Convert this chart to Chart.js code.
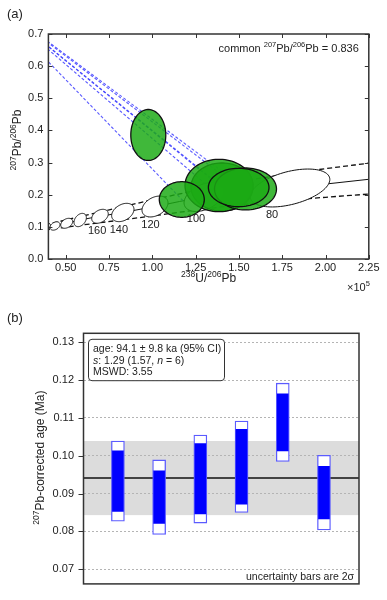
<!DOCTYPE html>
<html>
<head>
<meta charset="utf-8">
<script src="https://cdn.jsdelivr.net/npm/chart.js@4.4.0/dist/chart.umd.min.js"></script>
<style>
  html, body { margin: 0; padding: 0; background: #fff; }
  #wrapA { position: absolute; left: 0; top: 0; width: 387px; height: 300px; }
  #wrapB { position: absolute; left: 0; top: 300px; width: 387px; height: 300px; }
</style>
</head>
<body>
<div id="wrapA"><canvas id="chartA"></canvas></div>
<div id="wrapB"><canvas id="chartB"></canvas></div>
<script>
var FONT = '"Liberation Sans", Arial, Helvetica, sans-serif';
Chart.defaults.font.family = FONT;
Chart.defaults.color = '#222';

// ---------- panel (a): Tera-Wasserburg, 238U/206Pb in units of 1e5 ----------
var xTicksA = [0.50, 0.75, 1.00, 1.25, 1.50, 1.75, 2.00, 2.25];
var yTicksA = [0.0, 0.1, 0.2, 0.3, 0.4, 0.5, 0.6, 0.7];

var commonPb = 0.836;

// concordia and its dashed uncertainty envelope
var concX = [0.38, 0.4381, 0.5057, 0.5836, 0.6979, 0.8296, 1.0155, 1.2984, 1.795, 2.25];
var concY = [0.098, 0.1027, 0.1111, 0.1213, 0.1329, 0.1447, 0.1633, 0.1929, 0.2209, 0.248];
var envX = [0.38, 0.60, 0.80, 1.00, 1.25, 1.50, 1.75, 2.00, 2.25];
var envUpper = [0.106, 0.134, 0.159, 0.184, 0.213, 0.240, 0.262, 0.281, 0.298];
var envLower = [0.090, 0.106, 0.120, 0.134, 0.152, 0.168, 0.181, 0.192, 0.202];

// age markers on the concordia (ka)
var ageText = ['', '', '', '', '160', '140', '120', '100', '80'];
var ageX   = [0.386, 0.4381, 0.5057, 0.5836, 0.6979, 0.8296, 1.0155, 1.2984, 1.795];
var ageY   = [0.0996, 0.1027, 0.1111, 0.1213, 0.1329, 0.1447, 0.1633, 0.1929, 0.2209];
var ageSX  = [0.026, 0.0288, 0.0346, 0.0357, 0.0478, 0.0645, 0.075, 0.115, 0.23];
var ageSY  = [0.0125, 0.013, 0.0155, 0.0207, 0.0217, 0.0285, 0.0325, 0.045, 0.059];
var ageRho = [0.35, 0.35, 0.35, 0.35, 0.35, 0.35, 0.35, 0.4, 0.45];

// measured aliquots
var smpX   = [1.4023, 1.385, 1.1702, 0.9768, 1.538, 1.4987];
var smpY   = [0.224, 0.2287, 0.1851, 0.3858, 0.2178, 0.2225];
var smpSX  = [0.179, 0.1963, 0.1299, 0.101, 0.179, 0.175];
var smpSY  = [0.0747, 0.0815, 0.0554, 0.0793, 0.0653, 0.0597];
var smpRho = [0, 0, 0, 0, 0, 0];
// where each common-Pb line meets the concordia
var hitX = [1.455, 1.447, 1.176, 1.386, 1.564, 1.536];
var hitY = [0.2013, 0.2015, 0.182, 0.197, 0.208, 0.207];

// ---------- panel (b): 207Pb-corrected ages (Ma) ----------
var aliquot = [1, 2, 3, 4, 5, 6];
var outerLo = [0.0827, 0.0792, 0.0822, 0.0850, 0.0985, 0.0804];
var outerHi = [0.1039, 0.0989, 0.1055, 0.1092, 0.1192, 0.1001];
var innerLo = [0.0853, 0.0821, 0.0846, 0.0872, 0.1013, 0.0833];
var innerHi = [0.1013, 0.0960, 0.1032, 0.1070, 0.1164, 0.0972];
var meanAge = 0.0941;
var meanCI = 0.0098;
var yTicksB = [0.07, 0.08, 0.09, 0.10, 0.11, 0.12, 0.13];


function pts(xs, ys) {
    return xs.map(function (x, i) { return { x: x, y: ys[i] }; });
}

// text with superscript / italic pieces: parts = [[text, sup, italic], ...]
function drawRich(ctx, parts, x, y, align, size, supSize) {
    function fontOf(p) {
        return (p[2] ? 'italic ' : '') + (p[1] ? supSize : size) + 'px ' + FONT;
    }
    var w = 0;
    parts.forEach(function (p) { ctx.font = fontOf(p); w += ctx.measureText(p[0]).width; });
    var cx = align === 'right' ? x - w : (align === 'center' ? x - w / 2 : x);
    ctx.textAlign = 'left';
    ctx.textBaseline = 'alphabetic';
    parts.forEach(function (p) {
        ctx.font = fontOf(p);
        ctx.fillText(p[0], cx, p[1] ? y - size * 0.4 : y);
        cx += ctx.measureText(p[0]).width;
    });
}

function ellipsePath(ctx, xs, ys, cx, cy, sx, sy, rho) {
    var r2 = Math.sqrt(1 - rho * rho);
    ctx.beginPath();
    for (var k = 0; k <= 90; k++) {
        var t = k / 90 * 2 * Math.PI;
        var px = xs.getPixelForValue(cx + sx * Math.cos(t));
        var py = ys.getPixelForValue(cy + sy * (rho * Math.cos(t) + r2 * Math.sin(t)));
        if (k === 0) ctx.moveTo(px, py); else ctx.lineTo(px, py);
    }
    ctx.closePath();
}

function clipArea(ctx, a) {
    ctx.beginPath();
    ctx.rect(a.left, a.top, a.right - a.left, a.bottom - a.top);
    ctx.clip();
}

// white age ellipses go on top of the concordia lines
var ageEllipses = {
    id: 'ageEllipses',
    afterDatasetDraw: function (chart, args) {
        if (chart.data.datasets[args.index].label !== 'concordia') return;
        var ctx = chart.ctx, xs = chart.scales.x, ys = chart.scales.y;
        ctx.save();
        clipArea(ctx, chart.chartArea);
        for (var i = 0; i < ageX.length; i++) {
            ellipsePath(ctx, xs, ys, ageX[i], ageY[i], ageSX[i], ageSY[i], ageRho[i]);
            ctx.fillStyle = '#fff';
            ctx.fill();
            ctx.strokeStyle = '#111';
            ctx.lineWidth = 1;
            ctx.stroke();
        }
        ctx.restore();
        ctx.save();
        ctx.fillStyle = '#222';
        ctx.font = '11px ' + FONT;
        ctx.textAlign = 'center';
        ctx.textBaseline = 'alphabetic';
        for (var j = 0; j < ageX.length; j++) {
            if (!ageText[j]) continue;
            var lx = xs.getPixelForValue(ageX[j] - ageRho[j] * ageSX[j]);
            var ly = ys.getPixelForValue(ageY[j] - ageSY[j]);
            ctx.fillText(ageText[j], lx, ly + 11);
        }
        ctx.restore();
    }
};

var panelA = {
    id: 'panelA',
    afterDatasetsDraw: function (chart) {
        var ctx = chart.ctx, xs = chart.scales.x, ys = chart.scales.y;
        ctx.save();
        clipArea(ctx, chart.chartArea);
        for (var i = 0; i < smpX.length; i++) {
            ellipsePath(ctx, xs, ys, smpX[i], smpY[i], smpSX[i], smpSY[i], smpRho[i]);
            ctx.fillStyle = 'rgba(28,170,20,0.84)';
            ctx.fill();
            ctx.strokeStyle = '#111';
            ctx.lineWidth = 1.3;
            ctx.stroke();
        }
        ctx.restore();
    },
    afterDraw: function (chart) {
        var ctx = chart.ctx, a = chart.chartArea, xs = chart.scales.x, ys = chart.scales.y;
        ctx.save();
        ctx.strokeStyle = '#333';
        ctx.lineWidth = 1;
        ctx.beginPath();
        xTicksA.forEach(function (v) {
            var px = Math.round(xs.getPixelForValue(v)) + 0.5;
            ctx.moveTo(px, a.bottom); ctx.lineTo(px, a.bottom - 4);
            ctx.moveTo(px, a.top); ctx.lineTo(px, a.top + 4);
        });
        yTicksA.forEach(function (v) {
            var py = Math.round(ys.getPixelForValue(v)) + 0.5;
            ctx.moveTo(a.left, py); ctx.lineTo(a.left + 4, py);
            ctx.moveTo(a.right, py); ctx.lineTo(a.right - 4, py);
        });
        ctx.stroke();
        ctx.lineWidth = 1.5;
        ctx.strokeRect(a.left, a.top, a.right - a.left, a.bottom - a.top);

        ctx.fillStyle = '#222';
        drawRich(ctx, [['(a)']], 7, 18, 'left', 13, 9);
        drawRich(ctx, [['common '], ['207', true], ['Pb/'], ['206', true], ['Pb = ' + commonPb.toFixed(3)]],
            a.right - 10, 51.5, 'right', 11, 7.5);
        drawRich(ctx, [['238', true], ['U/'], ['206', true], ['Pb']],
            (a.left + a.right) / 2, 282, 'center', 12, 8.5);
        drawRich(ctx, [['\u00d710'], ['5', true]], a.right + 1, 290.5, 'right', 11, 7.5);
        ctx.translate(20.5, 140);
        ctx.rotate(-Math.PI / 2);
        drawRich(ctx, [['207', true], ['Pb/'], ['206', true], ['Pb']], 0, 0, 'center', 12, 8.5);
        ctx.restore();
    }
};

var datasetsA = [
    { label: 'concordia', data: pts(concX, concY), borderColor: '#111', borderWidth: 1,
      cubicInterpolationMode: 'monotone', order: 2 },
    { label: 'upper', data: pts(envX, envUpper), borderColor: '#111', borderWidth: 1.3,
      borderDash: [5, 3], cubicInterpolationMode: 'monotone', order: 2 },
    { label: 'lower', data: pts(envX, envLower), borderColor: '#111', borderWidth: 1.3,
      borderDash: [5, 3], cubicInterpolationMode: 'monotone', order: 2 }
];
for (var i = 0; i < hitX.length; i++) {
    datasetsA.push({
        label: 'common Pb ' + (i + 1),
        data: [{ x: 0, y: commonPb }, { x: hitX[i], y: hitY[i] }],
        borderColor: 'rgba(60,60,255,0.85)', borderWidth: 1.1, borderDash: [3, 2], order: 1
    });
}
datasetsA.forEach(function (d) { d.showLine = true; d.pointRadius = 0; d.fill = false; });

new Chart(document.getElementById('chartA'), {
    type: 'scatter',
    data: { datasets: datasetsA },
    options: {
        responsive: true,
        maintainAspectRatio: false,
        animation: false,
        events: [],
        layout: { padding: { left: 0, right: 18.2, top: 34, bottom: 0 } },
        plugins: { legend: { display: false }, tooltip: { enabled: false } },
        scales: {
            x: {
                type: 'linear', min: 0.4, max: 2.25,
                grid: { display: false, drawTicks: false },
                border: { display: false },
                afterBuildTicks: function (s) { s.ticks = xTicksA.map(function (v) { return { value: v }; }); },
                afterFit: function (s) { s.height = 41; },
                ticks: { padding: 2, maxRotation: 0, font: { size: 11 }, color: '#222',
                    callback: function (v) { return Number(v).toFixed(2); } }
            },
            y: {
                type: 'linear', min: 0, max: 0.7,
                grid: { display: false, drawTicks: false },
                border: { display: false },
                afterBuildTicks: function (s) { s.ticks = yTicksA.map(function (v) { return { value: v }; }); },
                afterFit: function (s) { s.width = 48.4; },
                ticks: { padding: 5, font: { size: 11 }, color: '#222',
                    callback: function (v) { return Number(v).toFixed(1); } }
            }
        }
    },
    plugins: [ageEllipses, panelA]
});

// ---------- panel (b) ----------
var panelB = {
    id: 'panelB',
    beforeDraw: function (chart) {
        var ctx = chart.ctx, a = chart.chartArea, ys = chart.scales.y;
        var top = ys.getPixelForValue(meanAge + meanCI), bot = ys.getPixelForValue(meanAge - meanCI);
        ctx.save();
        ctx.fillStyle = '#dcdcdc';
        ctx.fillRect(a.left, top, a.right - a.left, bot - top);
        ctx.restore();
    },
    beforeDatasetsDraw: function (chart) {
        var ctx = chart.ctx, a = chart.chartArea, ys = chart.scales.y;
        var py = ys.getPixelForValue(meanAge);
        ctx.save();
        ctx.strokeStyle = '#111';
        ctx.lineWidth = 1.4;
        ctx.beginPath();
        ctx.moveTo(a.left, py); ctx.lineTo(a.right, py);
        ctx.stroke();
        ctx.restore();
    },
    afterDraw: function (chart) {
        var ctx = chart.ctx, a = chart.chartArea, ys = chart.scales.y;
        ctx.save();
        ctx.strokeStyle = '#333';
        ctx.lineWidth = 1;
        ctx.beginPath();
        yTicksB.forEach(function (v) {
            var py = Math.round(ys.getPixelForValue(v)) + 0.5;
            ctx.moveTo(a.left, py); ctx.lineTo(a.left - 5, py);
        });
        ctx.stroke();
        ctx.lineWidth = 1.5;
        ctx.strokeRect(a.left, a.top, a.right - a.left, a.bottom - a.top);

        // statistics box
        var bx = a.left + 5, by = a.top + 6, bw = 136, bh = 41.4, r = 3.5;
        ctx.fillStyle = '#fff';
        ctx.strokeStyle = '#333';
        ctx.lineWidth = 1;
        ctx.beginPath();
        ctx.roundRect(bx, by, bw, bh, r);
        ctx.fill();
        ctx.stroke();
        ctx.fillStyle = '#222';
        drawRich(ctx, [['age: ' + (meanAge * 1000).toFixed(1) + ' \u00b1 ' + (meanCI * 1000).toFixed(1) + ' ka (95% CI)']],
            bx + 4.5, by + 12.8, 'left', 10.5, 8);
        drawRich(ctx, [['s', false, true], [': 1.29 (1.57, '], ['n', false, true], [' = ' + aliquot.length + ')']],
            bx + 4.5, by + 24.4, 'left', 10.5, 8);
        drawRich(ctx, [['MSWD: 3.55']], bx + 4.5, by + 35.6, 'left', 10.5, 8);

        drawRich(ctx, [['uncertainty bars are 2\u03c3']], a.right - 5, a.bottom - 4, 'right', 10.5, 8);
        drawRich(ctx, [['(b)']], 7, 22.4, 'left', 13, 9);

        ctx.translate(43.5, (a.top + a.bottom) / 2 - 1);
        ctx.rotate(-Math.PI / 2);
        drawRich(ctx, [['207', true], ['Pb-corrected age (Ma)']], 0, 0, 'center', 12, 8.5);
        ctx.restore();
    }
};

new Chart(document.getElementById('chartB'), {
    type: 'bar',
    data: {
        datasets: [
            { label: 'outer', data: aliquot.map(function (x, i) { return { x: x, y: [outerLo[i], outerHi[i]] }; }),
              backgroundColor: '#ffffff', borderColor: '#5b5bff', borderWidth: 1.3, borderSkipped: false,
              barThickness: 13, grouped: false, order: 2 },
            { label: 'inner', data: aliquot.map(function (x, i) { return { x: x, y: [innerLo[i], innerHi[i]] }; }),
              backgroundColor: '#0000ff', borderWidth: 0, borderSkipped: false,
              barThickness: 11, grouped: false, order: 1 }
        ]
    },
    options: {
        responsive: true,
        maintainAspectRatio: false,
        animation: false,
        events: [],
        layout: { padding: { left: 0, right: 28, top: 33.3, bottom: 7.7 } },
        plugins: { legend: { display: false }, tooltip: { enabled: false } },
        scales: {
            x: { type: 'linear', min: 0.165, max: 6.85, offset: false, display: false },
            y: {
                type: 'linear', min: 0.0661, max: 0.1324,
                grid: { color: '#b4b4b4', lineWidth: 1, drawTicks: false },
                border: { display: false, dash: [2, 2] },
                afterBuildTicks: function (s) { s.ticks = yTicksB.map(function (v) { return { value: v }; }); },
                afterFit: function (s) { s.width = 83.5; },
                ticks: { padding: 9.5, font: { size: 11 }, color: '#222',
                    callback: function (v) { return Number(v).toFixed(2); } }
            }
        }
    },
    plugins: [panelB]
});
</script>
</body>
</html>
